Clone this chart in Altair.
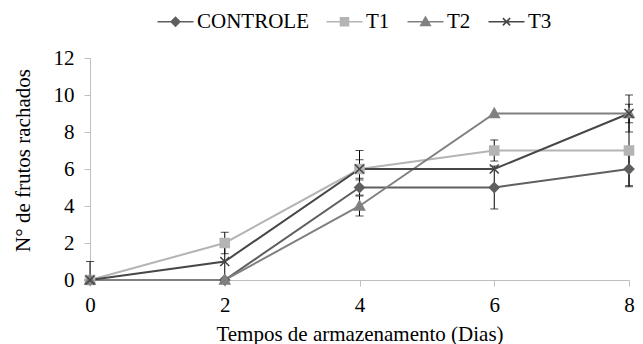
import altair as alt
import pandas as pd

dias = [0, 2, 4, 6, 8]
series = ["CONTROLE", "T1", "T2", "T3"]
controle = [0, 0, 5, 5, 6]
t1 = [0, 2, 6, 7, 7]
t2 = [0, 0, 4, 9, 9]
t3 = [0, 1, 6, 6, 9]
err_controle = [0, 0, 0.41, 1.16, 0.96]
err_t1 = [0, 0.58, 0.5, 0.57, 1.9]
err_t2 = [0, 0, 0.54, 0, 1.0]
err_t3 = [1.0, 1.0, 1.0, 0, 0.5]
y_ticks = [0, 2, 4, 6, 8, 10, 12]

colors = ["#5f5f5f", "#b4b4b4", "#808080", "#474747"]
marker_paths = [
    "M0,-0.95L0.95,0L0,0.95L-0.95,0Z",
    "M-0.9,-0.9H0.9V0.9H-0.9Z",
    "M0,-1L1,0.8H-1Z",
    "M-0.9,-0.9L0.9,0.9M-0.9,0.9L0.9,-0.9",
]
# legend symbols: a 36px line with a small marker, drawn with size 324 (9px per unit)
legend_paths = [
    "M-1,0H3M1,-0.48L1.48,0L1,0.48L0.52,0Z",
    "M-1,0H3M0.56,-0.44H1.44V0.44H0.56Z",
    "M-1,0H3M1,-0.52L1.52,0.4H0.48Z",
    "M-1,0H3M0.6,-0.4L1.4,0.4M0.6,0.4L1.4,-0.4",
]

rows = []
for name, vals, errs in zip(series, [controle, t1, t2, t3],
                            [err_controle, err_t1, err_t2, err_t3]):
    for d, v, e in zip(dias, vals, errs):
        rows.append({"dia": d, "serie": name, "valor": v,
                     "lo": max(0, v - e), "hi": v + e, "err": e})
df = pd.DataFrame(rows)

FONT = "Liberation Serif"
FS = 21

x_axis = alt.Axis(values=dias, format="d", title="Tempos de armazenamento (Dias)",
                  grid=False, tickSize=6, labelPadding=8, labelOverlap=False,
                  titlePadding=8)
y_axis = alt.Axis(values=y_ticks, format="d", title="N° de frutos rachados",
                  grid=False, tickSize=6, labelPadding=10, labelOverlap=False,
                  titlePadding=20, titleY=102)
x_scale = alt.Scale(domain=[0, 8], nice=False)
y_scale = alt.Scale(domain=[0, 12], nice=False)


def X():
    return alt.X("dia:Q", scale=x_scale, axis=x_axis)


def Y(field):
    return alt.Y(field + ":Q", scale=y_scale, axis=y_axis)


cscale = alt.Scale(domain=series, range=colors)

base = alt.Chart(df)

lines = base.mark_line(strokeWidth=2).encode(
    x=X(), y=Y("valor"),
    stroke=alt.Stroke("serie:N", scale=cscale, legend=None),
    detail="serie:N",
)

eb = base.transform_filter("datum.err > 0")
err_rule = eb.mark_rule(color="black", strokeWidth=1).encode(
    x=X(), y=Y("lo"), y2="hi:Q")
cap_hi = eb.mark_tick(orient="horizontal", color="black", thickness=1, size=8).encode(
    x=X(), y=Y("hi"))
cap_lo = eb.mark_tick(orient="horizontal", color="black", thickness=1, size=8).encode(
    x=X(), y=Y("lo"))

points = base.mark_point(filled=True, size=100, opacity=1, strokeWidth=1.6).encode(
    x=X(), y=Y("valor"),
    shape=alt.Shape("serie:N", scale=alt.Scale(domain=series, range=marker_paths), legend=None),
    fill=alt.Fill("serie:N", scale=cscale, legend=None),
    stroke=alt.Stroke("serie:N", scale=cscale, legend=None),
)

leg = alt.Legend(title=None, orient="none", direction="horizontal", columns=4,
                 legendX=66, legendY=-47, labelOffset=20, columnPadding=14,
                 symbolSize=324, symbolStrokeWidth=1.6, padding=0)

legend_layer = base.transform_filter("datum.dia < 0").mark_point(
    filled=True, size=324, opacity=1).encode(
    x=X(), y=Y("valor"),
    shape=alt.Shape("serie:N", scale=alt.Scale(domain=series, range=legend_paths), legend=leg),
    fill=alt.Fill("serie:N", scale=cscale, legend=leg),
    stroke=alt.Stroke("serie:N", scale=cscale, legend=leg),
)

chart = alt.layer(lines, err_rule, cap_hi, cap_lo, points, legend_layer).resolve_scale(
    shape="independent", fill="independent", stroke="independent"
).properties(
    width=539, height=222,
    autosize=alt.AutoSizeParams(type="none"),
    padding={"left": 82, "top": 50, "right": 6, "bottom": 64},
).configure(font=FONT).configure_view(stroke=None).configure_axis(
    labelFlush=False, labelFont=FONT, labelFontSize=FS, labelColor="black",
    titleFont=FONT, titleFontSize=FS, titleFontWeight="normal", titleColor="black",
    domainColor="#bfbfbf", tickColor="#bfbfbf",
).configure_legend(labelFont=FONT, labelFontSize=FS, labelColor="black")

chart.save("out.html", embed_options={"renderer": "svg", "actions": False})
